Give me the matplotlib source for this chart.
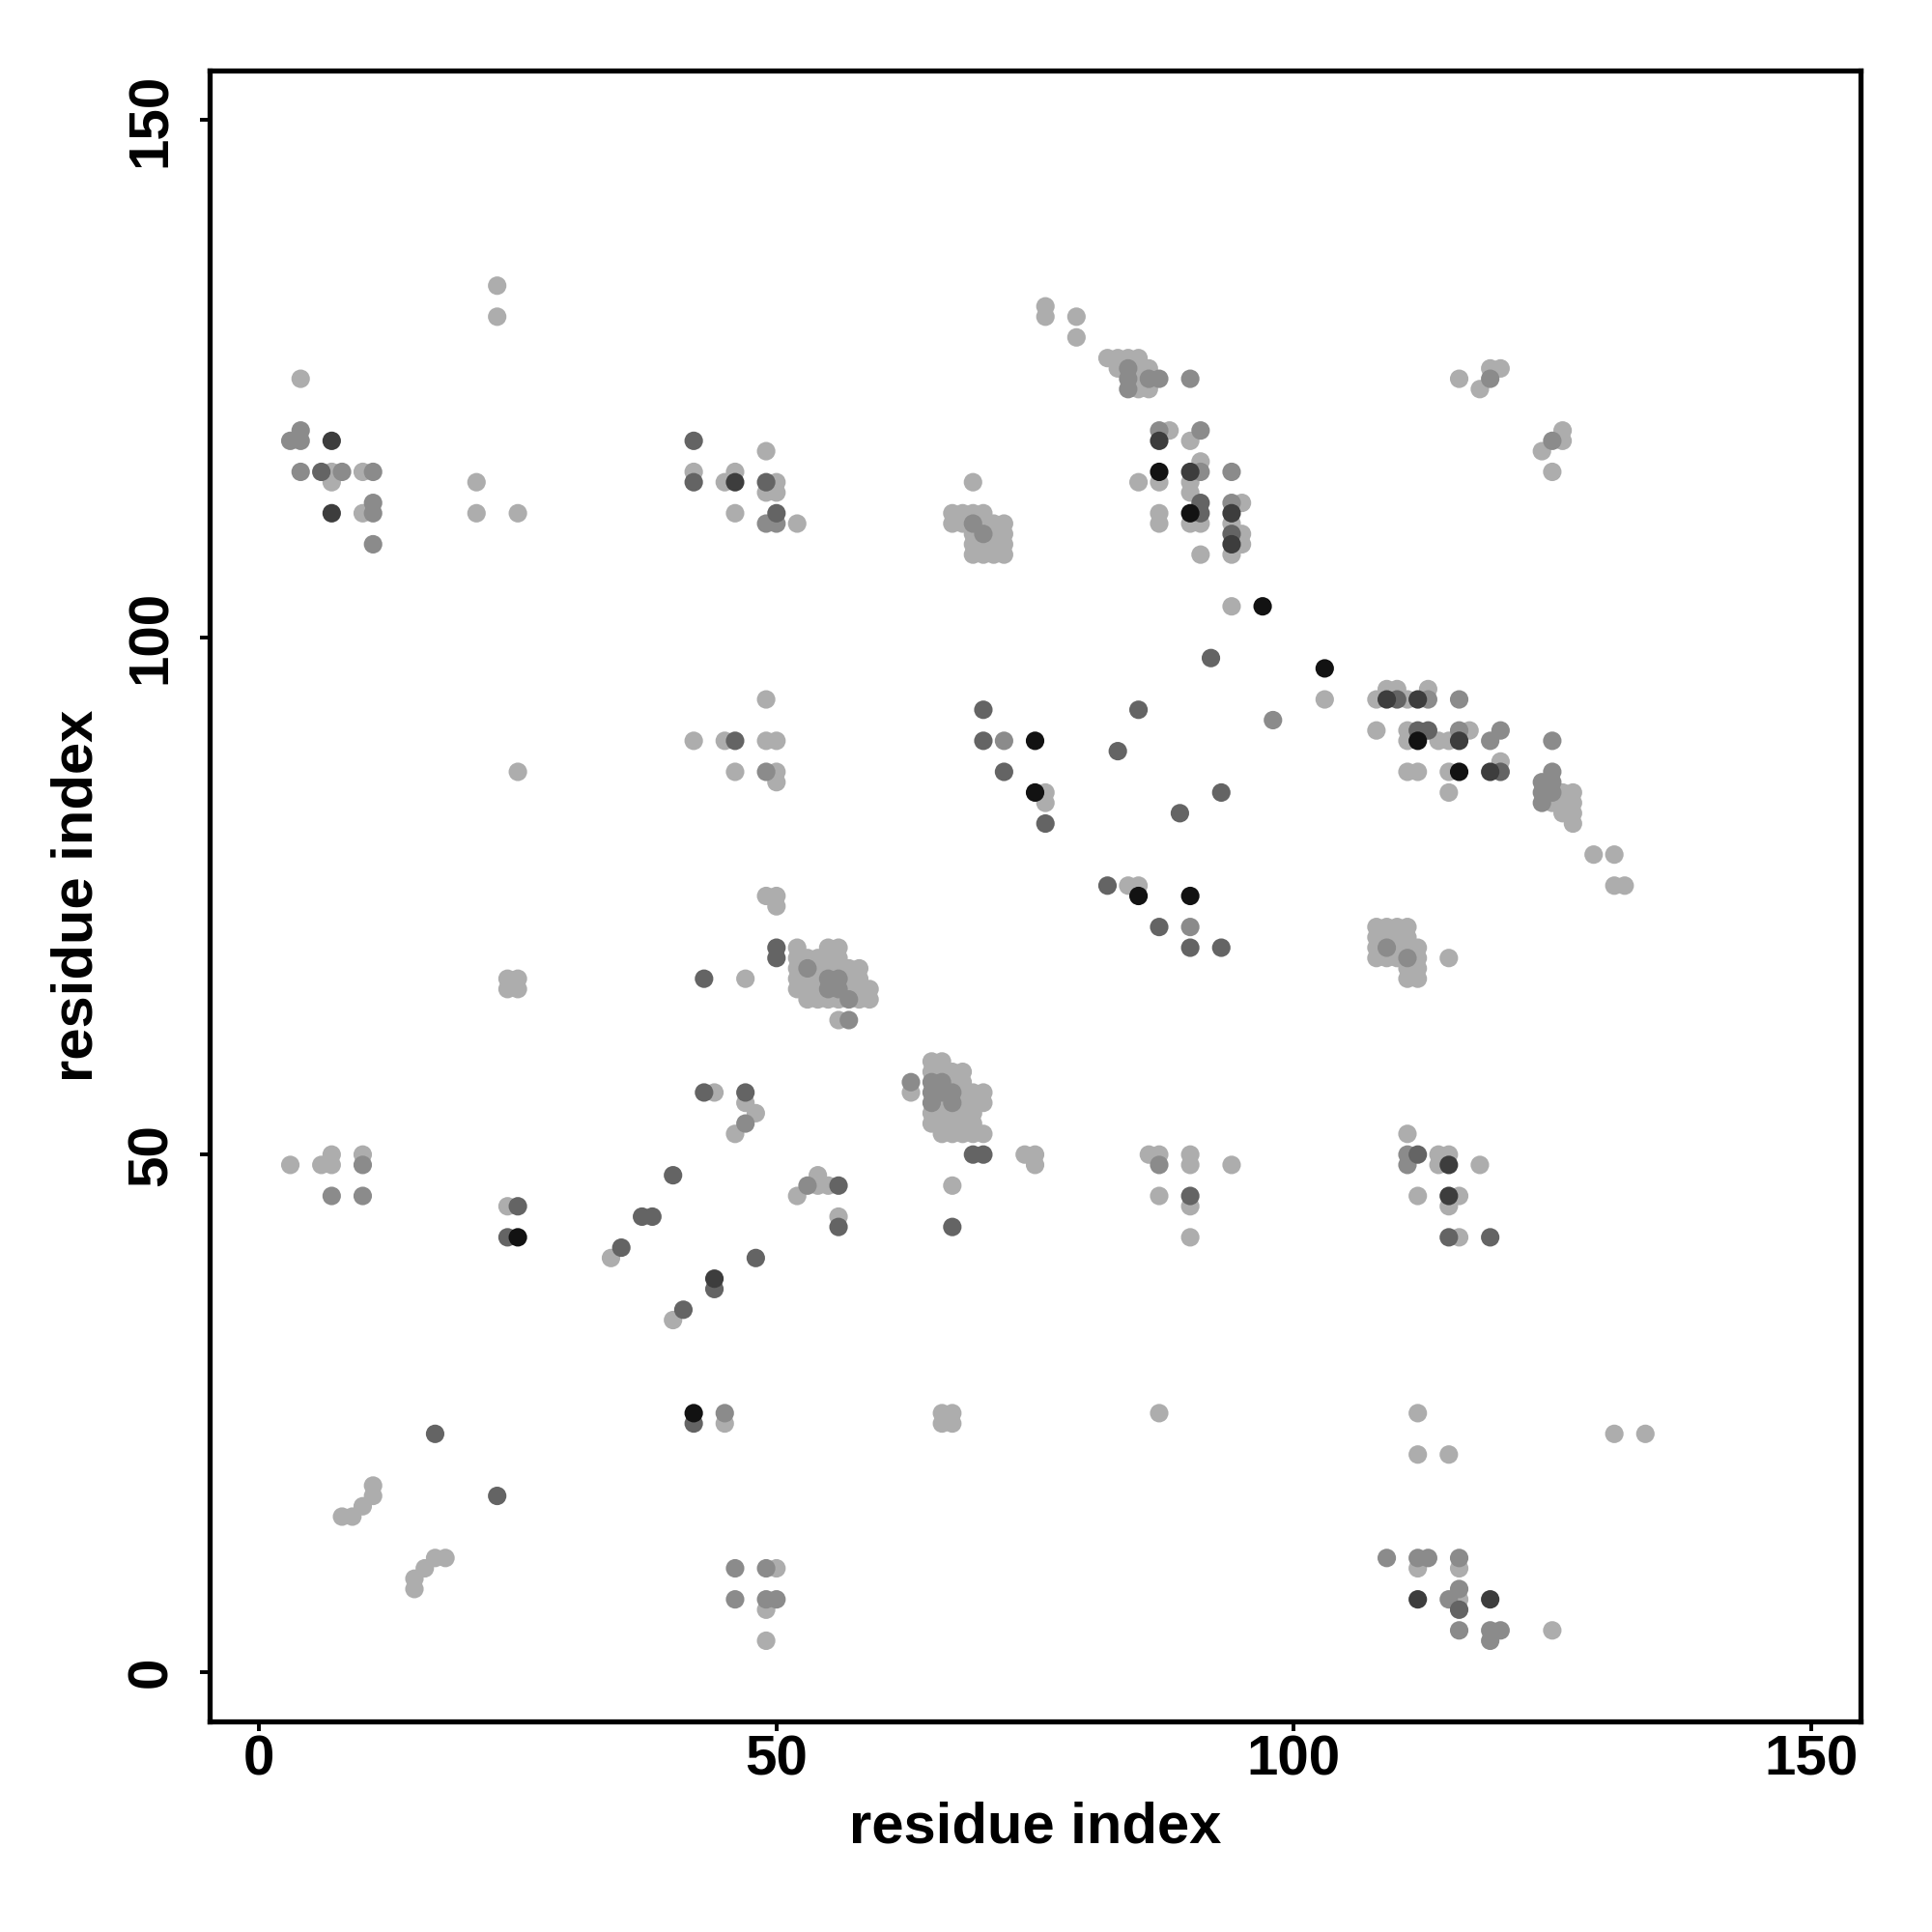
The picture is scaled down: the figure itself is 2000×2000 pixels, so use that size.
import matplotlib.pyplot as plt

plt.rcParams['font.family'] = ['Liberation Sans', 'DejaVu Sans']

# contacts as (residue i, residue j, shade); shade 0 = light grey ... 4 = black
top_left = [(23, 134, 0), (23, 131, 0), (4, 125, 0), (4, 120, 1), (3, 119, 1), (4, 119, 1),
            (7, 119, 3), (4, 116, 1), (6, 116, 2), (7, 116, 0), (8, 116, 1), (10, 116, 0),
            (11, 116, 1), (7, 115, 0), (7, 112, 3), (10, 112, 0), (11, 113, 1), (11, 112, 1),
            (11, 109, 1), (21, 115, 0), (21, 112, 0), (25, 112, 0)]

top_mid_left = [(42, 119, 2), (42, 116, 0), (42, 115, 2), (45, 115, 0), (46, 116, 0), (46, 115, 3),
                (46, 112, 0), (49, 118, 0), (49, 115, 2), (50, 115, 0), (49, 114, 0), (50, 114, 0),
                (50, 112, 2), (49, 111, 1), (50, 111, 1), (52, 111, 0), (69, 115, 0)]

block_a = [(67, 112, 0), (68, 112, 0), (69, 112, 0), (70, 112, 0),
           (67, 111, 0), (68, 111, 0), (69, 111, 1), (70, 111, 0), (71, 111, 0), (72, 111, 0),
           (69, 110, 0), (70, 110, 1), (71, 110, 0), (72, 110, 0),
           (69, 109, 0), (70, 109, 0), (71, 109, 0), (72, 109, 0),
           (69, 108, 0), (70, 108, 0), (71, 108, 0), (72, 108, 0)]

top_mid = [(76, 132, 0), (76, 131, 0), (79, 131, 0), (79, 129, 0),
           (82, 127, 0), (83, 127, 0), (84, 127, 0), (85, 127, 0), (83, 126, 0), (84, 126, 1),
           (85, 126, 0), (86, 126, 0), (84, 125, 1), (85, 125, 0), (86, 125, 1), (87, 125, 1),
           (84, 124, 1), (85, 124, 0), (86, 124, 0), (90, 125, 1),
           (87, 120, 1), (88, 120, 0), (87, 119, 3), (91, 120, 1), (90, 119, 0), (91, 117, 0),
           (87, 116, 4), (90, 116, 3), (91, 116, 1), (94, 116, 1), (85, 115, 0), (87, 115, 0),
           (90, 115, 0), (90, 114, 0), (91, 113, 2), (94, 113, 1), (95, 113, 0), (87, 112, 0),
           (90, 112, 4), (91, 112, 2), (94, 112, 3), (87, 111, 0), (90, 111, 0), (91, 111, 0),
           (94, 111, 0), (94, 110, 2), (95, 110, 0), (94, 109, 3), (95, 109, 0), (91, 108, 0),
           (94, 108, 0), (94, 103, 0), (97, 103, 4)]

top_right = [(116, 125, 0), (119, 126, 0), (120, 126, 0), (119, 125, 1), (118, 124, 0),
             (126, 120, 0), (125, 119, 1), (126, 119, 0), (124, 118, 0), (125, 116, 0)]

mid_left = [(25, 87, 0), (42, 90, 0), (45, 90, 0), (46, 90, 2), (49, 90, 0), (50, 90, 0),
            (49, 94, 0), (46, 87, 0), (49, 87, 1), (50, 87, 0), (50, 86, 0), (49, 75, 0),
            (50, 75, 0), (50, 74, 0), (24, 67, 0), (25, 67, 0), (24, 66, 0), (25, 66, 0),
            (43, 67, 2), (47, 67, 0), (50, 70, 2), (50, 69, 2)]

mid_centre = [(70, 93, 2), (70, 90, 2), (72, 90, 1), (75, 90, 4), (72, 87, 2), (75, 85, 4),
              (76, 85, 0), (76, 84, 0), (76, 82, 2), (85, 93, 2), (92, 98, 2), (98, 92, 1),
              (83, 89, 2), (93, 85, 2), (89, 83, 2), (103, 97, 4), (103, 94, 0), (82, 76, 2),
              (84, 76, 0), (85, 76, 0), (85, 75, 4), (90, 75, 4), (87, 72, 2), (90, 72, 1),
              (90, 70, 2), (93, 70, 2)]

block_c = [(52, 70, 0), (55, 70, 0), (56, 70, 0),
           (52, 69, 0), (53, 69, 0), (54, 69, 0), (55, 69, 0), (56, 69, 0),
           (52, 68, 0), (53, 68, 1), (54, 68, 0), (55, 68, 0), (56, 68, 0), (57, 68, 0), (58, 68, 0),
           (52, 67, 0), (53, 67, 0), (54, 67, 0), (55, 67, 1), (56, 67, 1), (57, 67, 0), (58, 67, 0),
           (52, 66, 0), (53, 66, 0), (54, 66, 0), (55, 66, 1), (56, 66, 1), (57, 66, 0), (58, 66, 0),
           (59, 66, 0),
           (53, 65, 0), (54, 65, 0), (55, 65, 0), (56, 65, 0), (57, 65, 1), (58, 65, 0), (59, 65, 0),
           (56, 63, 0), (57, 63, 1)]

mid_right = [(109, 95, 0), (110, 95, 0), (113, 95, 0), (108, 94, 0), (109, 94, 3), (110, 94, 2),
             (111, 94, 0), (112, 94, 3), (113, 94, 1), (116, 94, 1),
             (108, 91, 0), (111, 91, 0), (112, 91, 2), (113, 91, 2), (116, 91, 1), (117, 91, 0),
             (120, 91, 1), (111, 90, 0), (112, 90, 4), (114, 90, 0), (115, 90, 0), (116, 90, 3),
             (119, 90, 1), (125, 90, 1), (120, 88, 0), (111, 87, 0), (112, 87, 0), (115, 87, 0),
             (116, 87, 4), (119, 87, 3), (120, 87, 2), (125, 87, 1), (115, 85, 0),
             (124, 86, 1), (125, 86, 1), (124, 85, 1), (125, 85, 1), (126, 85, 0), (127, 85, 0),
             (124, 84, 1), (125, 84, 0), (126, 84, 0), (127, 84, 0), (126, 83, 0), (127, 83, 0),
             (127, 82, 0), (129, 79, 0), (131, 79, 0), (131, 76, 0), (132, 76, 0)]

block_e = [(108, 72, 0), (109, 72, 0), (110, 72, 0), (111, 72, 0),
           (108, 71, 0), (109, 71, 0), (110, 71, 0), (111, 71, 0),
           (108, 70, 0), (109, 70, 1), (110, 70, 0), (111, 70, 0), (112, 70, 0),
           (108, 69, 0), (109, 69, 0), (110, 69, 0), (111, 69, 1), (112, 69, 0),
           (111, 68, 0), (112, 68, 0), (111, 67, 0), (112, 67, 0), (115, 69, 0)]

low_left = [(3, 49, 0), (6, 49, 0), (7, 50, 0), (7, 49, 0), (10, 50, 0), (10, 49, 1), (7, 46, 1),
            (10, 46, 1), (24, 45, 0), (25, 45, 2), (24, 42, 2), (25, 42, 4),
            (43, 56, 2), (44, 56, 0), (47, 56, 2), (47, 55, 0), (48, 54, 0), (47, 53, 1),
            (46, 52, 0), (40, 48, 2), (37, 44, 2), (38, 44, 2), (35, 41, 2), (34, 40, 0),
            (44, 38, 3), (44, 37, 2), (48, 40, 2), (41, 35, 2), (40, 34, 0)]

block_d = [(65, 59, 0), (66, 59, 0),
           (65, 58, 0), (66, 58, 0), (67, 58, 0), (68, 58, 0),
           (65, 57, 1), (66, 57, 1), (67, 57, 0), (68, 57, 0),
           (65, 56, 1), (66, 56, 1), (67, 56, 1), (68, 56, 0), (69, 56, 0), (70, 56, 0),
           (65, 55, 1), (66, 55, 0), (67, 55, 1), (68, 55, 0), (69, 55, 0), (70, 55, 0),
           (65, 54, 0), (66, 54, 0), (67, 54, 0), (68, 54, 0), (69, 54, 0),
           (65, 53, 0), (66, 53, 0), (67, 53, 0), (68, 53, 0), (69, 53, 0),
           (66, 52, 0), (67, 52, 0), (68, 52, 0), (69, 52, 0), (70, 52, 0)]

low_centre = [(63, 57, 1), (63, 56, 0), (69, 50, 2), (70, 50, 2), (74, 50, 0), (75, 50, 0),
              (75, 49, 0), (86, 50, 0), (87, 50, 0), (87, 49, 1), (90, 50, 0), (90, 49, 0),
              (94, 49, 0), (87, 46, 0), (90, 46, 2), (90, 45, 0), (90, 42, 0), (54, 48, 0),
              (53, 47, 1), (54, 47, 0), (55, 47, 0), (56, 47, 2), (52, 46, 0), (56, 44, 0),
              (56, 43, 2), (67, 47, 0), (67, 43, 2)]

low_right = [(111, 52, 0), (111, 50, 1), (112, 50, 2), (111, 49, 1), (114, 50, 0), (115, 50, 0),
             (114, 49, 0), (115, 49, 3), (118, 49, 0), (112, 46, 0), (115, 46, 3), (116, 46, 0),
             (115, 45, 0), (115, 42, 2), (116, 42, 0), (119, 42, 2)]

bottom = [(42, 25, 4), (42, 24, 2), (45, 25, 1), (45, 24, 0), (17, 23, 2), (23, 17, 2),
          (11, 18, 0), (11, 17, 0), (10, 16, 0), (9, 15, 0), (8, 15, 0), (18, 11, 0),
          (17, 11, 0), (16, 10, 0), (15, 9, 0), (15, 8, 0), (46, 10, 1), (49, 10, 1),
          (50, 10, 0), (46, 7, 1), (49, 7, 1), (50, 7, 1), (49, 6, 0), (49, 3, 0),
          (66, 25, 0), (67, 25, 0), (66, 24, 0), (67, 24, 0), (87, 25, 0),
          (112, 25, 0), (112, 21, 0), (115, 21, 0), (131, 23, 0), (134, 23, 0),
          (109, 11, 1), (112, 11, 1), (113, 11, 1), (112, 10, 0), (116, 11, 1), (116, 10, 0),
          (112, 7, 3), (115, 7, 1), (116, 8, 1), (116, 7, 0), (116, 6, 2), (119, 7, 3),
          (116, 4, 1), (119, 4, 1), (120, 4, 1), (119, 3, 1), (125, 4, 0)]

shades = ['#adadad', '#8b8b8b', '#646464', '#3d3d3d', '#121212']
ticks = [0, 50, 100, 150]

contacts = (top_left + top_mid_left + block_a + top_mid + top_right + mid_left + mid_centre
            + block_c + mid_right + block_e + low_left + block_d + low_centre + low_right + bottom)
# darker points drawn last
contacts.sort(key=lambda c: c[2])

fig = plt.figure(figsize=(20, 20), dpi=100)
ax = fig.add_axes([0.1085, 0.109, 0.8545, 0.8545])

ax.scatter([c[0] for c in contacts], [c[1] for c in contacts], s=190,
           c=[shades[c[2]] for c in contacts], linewidths=0)

ax.set_xlim(-4.8, 154.8)
ax.set_ylim(-4.8, 154.8)
ax.set_xticks(ticks)
ax.set_yticks(ticks)
ax.tick_params(length=7.5, width=2.8, labelsize=42)
ax.tick_params(axis='x', pad=2)
ax.tick_params(axis='y', pad=16)
for lbl in ax.get_xticklabels() + ax.get_yticklabels():
    lbl.set_fontweight('bold')
for lbl in ax.get_yticklabels():
    lbl.set_rotation(90)
    lbl.set_va('center')
for sp in ax.spines.values():
    sp.set_linewidth(3.8)

ax.set_xlabel('residue index', fontsize=43, fontweight='bold', va='center')
ax.xaxis.set_label_coords(0.5, -0.0644)
ax.set_ylabel('residue index', fontsize=43, fontweight='bold', va='center')
ax.yaxis.set_label_coords(-0.0802, 0.5)

fig.savefig('out.png', dpi=100)
